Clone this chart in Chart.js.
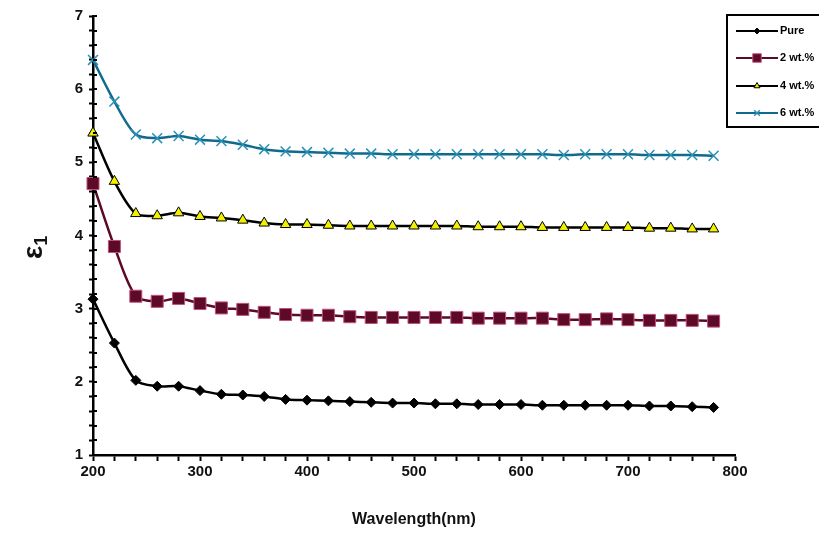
<!DOCTYPE html>
<html>
<head>
<meta charset="utf-8">
<script src="https://cdn.jsdelivr.net/npm/chart.js@4/dist/chart.umd.min.js"></script>
<style>
  html, body { margin: 0; padding: 0; background: #fff; }
  #wrap { width: 819px; height: 534px; }
</style>
</head>
<body>
<div id="wrap"><canvas id="epsChart" width="819" height="534"></canvas></div>
<script>
// longitudes de onda (nm)
var wavelengths = [200, 220, 240, 260, 280, 300, 320, 340, 360, 380, 400, 420, 440, 460, 480,
                   500, 520, 540, 560, 580, 600, 620, 640, 660, 680, 700, 720, 740, 760, 780];

var pureData = [3.13, 2.53, 2.02, 1.94, 1.94, 1.88, 1.83, 1.82, 1.80, 1.76, 1.75, 1.74, 1.73, 1.72, 1.71,
                1.71, 1.70, 1.70, 1.69, 1.69, 1.69, 1.68, 1.68, 1.68, 1.68, 1.68, 1.67, 1.67, 1.66, 1.65];
var wt2Data = [4.71, 3.85, 3.17, 3.10, 3.14, 3.07, 3.01, 2.99, 2.95, 2.92, 2.91, 2.91, 2.89, 2.88, 2.88,
               2.88, 2.88, 2.88, 2.87, 2.87, 2.87, 2.87, 2.85, 2.85, 2.86, 2.85, 2.84, 2.84, 2.84, 2.83];
var wt4Data = [5.40, 4.74, 4.30, 4.27, 4.31, 4.26, 4.24, 4.21, 4.17, 4.15, 4.15, 4.14, 4.13, 4.13, 4.13,
               4.13, 4.13, 4.13, 4.12, 4.12, 4.12, 4.11, 4.11, 4.11, 4.11, 4.11, 4.10, 4.10, 4.09, 4.09];
var wt6Data = [6.40, 5.83, 5.38, 5.33, 5.36, 5.31, 5.29, 5.24, 5.18, 5.15, 5.14, 5.13, 5.12, 5.12, 5.11,
               5.11, 5.11, 5.11, 5.11, 5.11, 5.11, 5.11, 5.10, 5.11, 5.11, 5.11, 5.10, 5.10, 5.10, 5.09];

var seriesNames = ['Pure', '2 wt.%', '4 wt.%', '6 wt.%'];
var xTickLabels = [200, 300, 400, 500, 600, 700, 800];
var yTickLabels = [1, 2, 3, 4, 5, 6, 7];

function toPoints(values) {
    return values.map(function (v, i) { return { x: wavelengths[i], y: v }; });
}

var FONT = '"Liberation Sans", Arial, sans-serif';

// Leyenda, títulos y marcas del eje y dibujados a mano
var extrasPlugin = {
    id: 'extras',
    afterDraw: function (chart) {
        var ctx = chart.ctx;
        var area = chart.chartArea;
        var yScale = chart.scales.y;
        ctx.save();

        // marcas del eje y que cruzan hacia dentro
        ctx.strokeStyle = '#000';
        ctx.lineWidth = 2;
        yScale.ticks.forEach(function (t) {
            var py = Math.round(yScale.getPixelForValue(t.value));
            ctx.beginPath();
            ctx.moveTo(area.left, py);
            ctx.lineTo(area.left + 4, py);
            ctx.stroke();
        });

        // título eje x
        ctx.fillStyle = '#111';
        ctx.font = 'bold 16px ' + FONT;
        ctx.textAlign = 'center';
        ctx.textBaseline = 'middle';
        ctx.fillText('Wavelength(nm)', (area.left + area.right) / 2, 520);

        // título eje y (ε1)
        ctx.save();
        ctx.translate(34, 245);
        ctx.rotate(-Math.PI / 2);
        ctx.font = 'bold 28px ' + FONT;
        ctx.textAlign = 'left';
        ctx.textBaseline = 'alphabetic';
        var w = ctx.measureText('ε').width;
        ctx.fillText('ε', -14, 8);
        ctx.font = 'bold 18px ' + FONT;
        ctx.fillText('1', -14 + w, 13);
        ctx.restore();

        // caja de leyenda
        ctx.fillStyle = '#fff';
        ctx.fillRect(727, 15, 100, 112);
        ctx.strokeStyle = '#000';
        ctx.lineWidth = 2;
        ctx.strokeRect(727, 15, 100, 112);

        var rows = [31, 58, 86, 113];
        chart.data.datasets.forEach(function (ds, i) {
            var y = rows[i];
            ctx.strokeStyle = ds.borderColor;
            ctx.lineWidth = 2;
            ctx.beginPath();
            ctx.moveTo(736, y);
            ctx.lineTo(778, y);
            ctx.stroke();
            ctx.fillStyle = ds.pointBackgroundColor;
            ctx.strokeStyle = ds.pointBorderColor;
            ctx.lineWidth = ds.pointStyle === 'crossRot' ? 1.5 : 1;
            Chart.helpers.drawPoint(ctx, {
                pointStyle: ds.pointStyle,
                radius: ds.legendRadius,
                borderWidth: ctx.lineWidth
            }, 757, y);
            ctx.fillStyle = '#000';
            ctx.font = 'bold 11px ' + FONT;
            ctx.textAlign = 'left';
            ctx.textBaseline = 'middle';
            ctx.fillText(seriesNames[i], 780, y);
        });
        ctx.restore();
    }
};

new Chart(document.getElementById('epsChart'), {
    type: 'line',
    data: {
        datasets: [
            {
                label: seriesNames[0],
                data: toPoints(pureData),
                borderColor: '#000000',
                borderWidth: 2.5,
                pointStyle: 'rectRot',
                pointRadius: 5,
                legendRadius: 3,
                pointBackgroundColor: '#000000',
                pointBorderColor: '#000000',
                pointBorderWidth: 1,
                tension: 0.3,
                clip: false
            },
            {
                label: seriesNames[1],
                data: toPoints(wt2Data),
                borderColor: '#5a0a28',
                borderWidth: 2.5,
                pointStyle: 'rect',
                pointRadius: 8.5,
                legendRadius: 6,
                pointBackgroundColor: '#5c0a26',
                pointBorderColor: '#c05080',
                pointBorderWidth: 1,
                tension: 0.3,
                clip: false
            },
            {
                label: seriesNames[2],
                data: toPoints(wt4Data),
                borderColor: '#000000',
                borderWidth: 2.5,
                pointStyle: 'triangle',
                pointRadius: 6,
                legendRadius: 3.5,
                pointBackgroundColor: '#f0f000',
                pointBorderColor: '#000000',
                pointBorderWidth: 1,
                tension: 0.3,
                clip: false
            },
            {
                label: seriesNames[3],
                data: toPoints(wt6Data),
                borderColor: '#106a8c',
                borderWidth: 2.5,
                pointStyle: 'crossRot',
                pointRadius: 7,
                legendRadius: 4,
                pointBackgroundColor: '#2a90b4',
                pointBorderColor: '#2a90b4',
                pointBorderWidth: 1.5,
                tension: 0.3,
                clip: false
            }
        ]
    },
    options: {
        responsive: false,
        animation: false,
        layout: { padding: { top: 16, right: 84, left: 0, bottom: 0 } },
        plugins: {
            legend: { display: false },
            tooltip: { enabled: false }
        },
        scales: {
            x: {
                type: 'linear',
                min: 200,
                max: 800,
                afterFit: function (scale) { scale.height = 79; },
                afterBuildTicks: function (scale) {
                    var t = [];
                    for (var v = 200; v <= 800; v += 20) t.push({ value: v });
                    scale.ticks = t;
                },
                ticks: {
                    autoSkip: false,
                    maxRotation: 0,
                    padding: 2,
                    color: '#111',
                    font: { family: FONT, size: 15, weight: 'bold' },
                    callback: function (v) { return xTickLabels.indexOf(v) >= 0 ? String(v) : ''; }
                },
                grid: { drawOnChartArea: false, color: '#000', tickLength: 6, tickWidth: 2 },
                border: { color: '#000', width: 2.5 }
            },
            y: {
                min: 1,
                max: 7,
                afterFit: function (scale) { scale.width = 93; },
                afterBuildTicks: function (scale) {
                    var t = [];
                    for (var k = 0; k <= 30; k++) t.push({ value: 1 + k * 0.2 });
                    scale.ticks = t;
                },
                ticks: {
                    autoSkip: false,
                    padding: 6,
                    color: '#111',
                    font: { family: FONT, size: 15, weight: 'bold' },
                    callback: function (v) {
                        var r = Math.round(v);
                        return (Math.abs(v - r) < 1e-6 && yTickLabels.indexOf(r) >= 0) ? String(r) : '';
                    }
                },
                grid: { drawOnChartArea: false, color: '#000', tickLength: 4, tickWidth: 2 },
                border: { color: '#000', width: 2.5 }
            }
        }
    },
    plugins: [extrasPlugin]
});
</script>
</body>
</html>
